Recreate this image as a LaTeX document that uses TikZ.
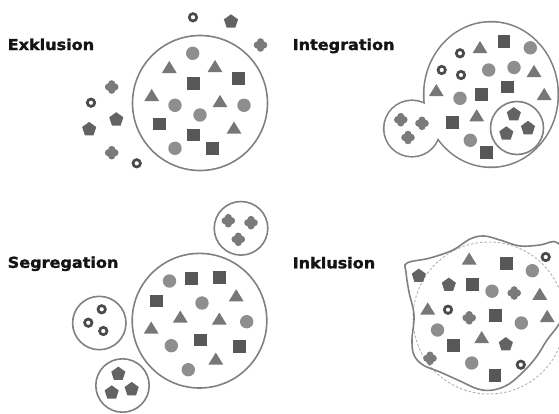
\documentclass[tikz,border=0pt]{standalone}
\usepackage{fontspec}
\newfontfamily\lblfont{DejaVu Sans Bold}[FakeBold=1.6]
\definecolor{ccirc}{HTML}{8E8E8E}
\definecolor{ctri}{HTML}{777777}
\definecolor{csq}{HTML}{575757}
\definecolor{cpent}{HTML}{636363}
\definecolor{ccross}{HTML}{7A7A7A}
\definecolor{cring}{HTML}{4A4A4A}
\definecolor{coutl}{HTML}{808080}
\definecolor{cdash}{HTML}{B0B0B0}
\newcommand{\shpcirc}[1]{\fill[ccirc] (#1) circle (6.7pt);}
\newcommand{\shpsq}[1]{\fill[csq,shift={(#1)}] (-6.4,-6.4) rectangle (6.4,6.4);}
\newcommand{\shptri}[1]{\fill[ctri,shift={(#1)}] (-7.4,5.3) -- (7.4,5.3) -- (0,-6.8) -- cycle;}
\newcommand{\shppent}[1]{\fill[cpent,shift={(#1)}] (90:7.4pt) -- (162:7.4pt) -- (234:7.4pt) -- (306:7.4pt) -- (18:7.4pt) -- cycle;}
\newcommand{\shpring}[1]{\draw[cring,line width=2.7pt] (#1) circle (3.7pt);}
\newcommand{\shpcross}[1]{\fill[ccross,shift={(#1)}] (3.2pt,0pt) circle (3.6pt) (-3.2pt,0pt) circle (3.6pt) (0pt,3.2pt) circle (3.6pt) (0pt,-3.2pt) circle (3.6pt);}
\tikzset{
  lbl/.style={anchor=base west,inner sep=0pt,font=\lblfont\bfseries\fontsize{15}{18}\selectfont,xscale=1.07,text=black!92},
  outl/.style={draw=coutl,line width=1.6pt},
}
\begin{document}
\begin{tikzpicture}[x=1pt,y=-1pt]
\useasboundingbox (0,0) rectangle (559,413);
\begin{scope}
\clip (0,0) rectangle (559,413);
% ---------- labels
\node[lbl] (lex) at (7.5,50) {Exklusion};
\node[lbl] (lint) at (292.5,50) {Integration};
\node[lbl] (lseg) at (7.5,267.8) {Segregation};
\node[lbl] (link) at (292.5,268.3) {Inklusion};

% ---------- Exklusion
\draw[outl] (200,103) circle (67.5pt);
\shpcirc{192.7,53.3} \shptri{169.3,67.7} \shptri{215,66.7} \shpsq{193.3,83.3} \shpsq{238.3,78.3}
\shptri{151.7,95.7} \shpcirc{175,105.3} \shptri{220,101.7} \shpcirc{244,105.3} \shpcirc{200,115}
\shpsq{159.3,124} \shptri{234,128.3} \shpsq{193.3,135} \shpcirc{175,148.3} \shpsq{212.7,148.3}
\shpring{193,17.3} \shppent{231,21.7} \shpcross{260.5,45} \shpcross{111.7,87}
\shpring{91,102.7} \shppent{116.3,119.6} \shppent{89.2,129.3} \shpcross{111.7,152.7} \shpring{136.7,163.3}

% ---------- Integration
\draw[coutl,line width=3.2pt] (491,94.5) ellipse (66.5pt and 72pt);
\draw[coutl,line width=3.2pt] (412,128.5) circle (27.5pt);
\fill[white] (491,94.5) ellipse (66.5pt and 72pt);
\fill[white] (412,128.5) circle (27.5pt);
\draw[outl] (517,128) circle (26.5pt);
\shpring{460,53.3} \shptri{480,47.8} \shpsq{504,41.7} \shpcirc{530.3,47.8}
\shpring{441.7,70} \shpring{461,75} \shpcirc{488.7,70} \shpcirc{514,67.5} \shptri{534,71.7}
\shptri{436.3,90.8} \shpcirc{460,98.3} \shpsq{481.2,94.7} \shpsq{507.2,87} \shptri{544.2,94.7}
\shpcross{400.8,119.7} \shpcross{422,123.3} \shpcross{408,137.5}
\shpsq{452.7,122.7} \shptri{476.7,116}
\shppent{513.8,114.5} \shppent{506.3,133.7} \shppent{528,128.3}
\shpcirc{470.3,140.3} \shpsq{486.7,152.7}

% ---------- Segregation
\draw[outl] (199.5,320.7) circle (67.3pt);
\draw[outl] (241,228.3) circle (26.8pt);
\draw[outl] (99.3,323) circle (26.7pt);
\draw[outl] (122.5,385.5) circle (26.7pt);
\shpcross{228.3,220.7} \shpcross{251,222.7} \shpcross{238.3,239.3}
\shpring{101.7,309.3} \shpring{88.3,322.7} \shpring{103.3,331}
\shppent{118.3,374} \shppent{111.7,392.7} \shppent{131.7,389.3}
\shpcirc{169.5,281} \shpsq{191.7,278.3} \shpsq{219.3,277.3} \shpsq{156.7,301} \shpcirc{202,303}
\shptri{236.2,296} \shptri{180.3,317.3} \shptri{219.3,319.3} \shpcirc{246.7,321.7} \shptri{151.2,328.3}
\shpsq{200.5,340} \shpcirc{171.3,345.7} \shpsq{239.3,346.7} \shptri{215.8,359.3} \shpcirc{188.3,369.7}

% ---------- Inklusion
\draw[cdash,line width=0.9pt,dash pattern=on 2.5pt off 2pt] (489,318) circle (76pt);
\draw[outl] plot[smooth cycle,tension=0.6] coordinates {
  (407,263) (430,258) (453,250) (470,239) (484,236) (500,240) (520,246)
  (540,245) (558,243) (570,270) (571,300) (559,324) (547,340) (537,356)
  (525,370) (509,384) (493,390) (478,389) (460,381) (440,372) (423,365)
  (414,355) (412,340) (414,315) (409,292) (406,272)};
\shppent{418.8,276} \shptri{469.2,259.3} \shpsq{506.7,263.3} \shpring{545.7,257} \shpcirc{532.3,270.7}
\shppent{448.8,285} \shpsq{472.5,284.2} \shpcirc{492,291.2} \shpcross{514.2,293} \shptri{539.8,294.5}
\shptri{427.7,309.2} \shpring{448,309.7} \shpcross{469.2,317.8} \shpsq{495.5,315.5} \shpcirc{521.3,323} \shptri{547.2,316.7}
\shpcirc{437.5,330} \shptri{481.7,337.8} \shpsq{453.8,345.8} \shppent{505.8,344.5}
\shpcross{430,358.3} \shpcirc{471.7,363} \shpring{520.8,364.7} \shpsq{495,375.8}
\end{scope}
\end{tikzpicture}
\end{document}
